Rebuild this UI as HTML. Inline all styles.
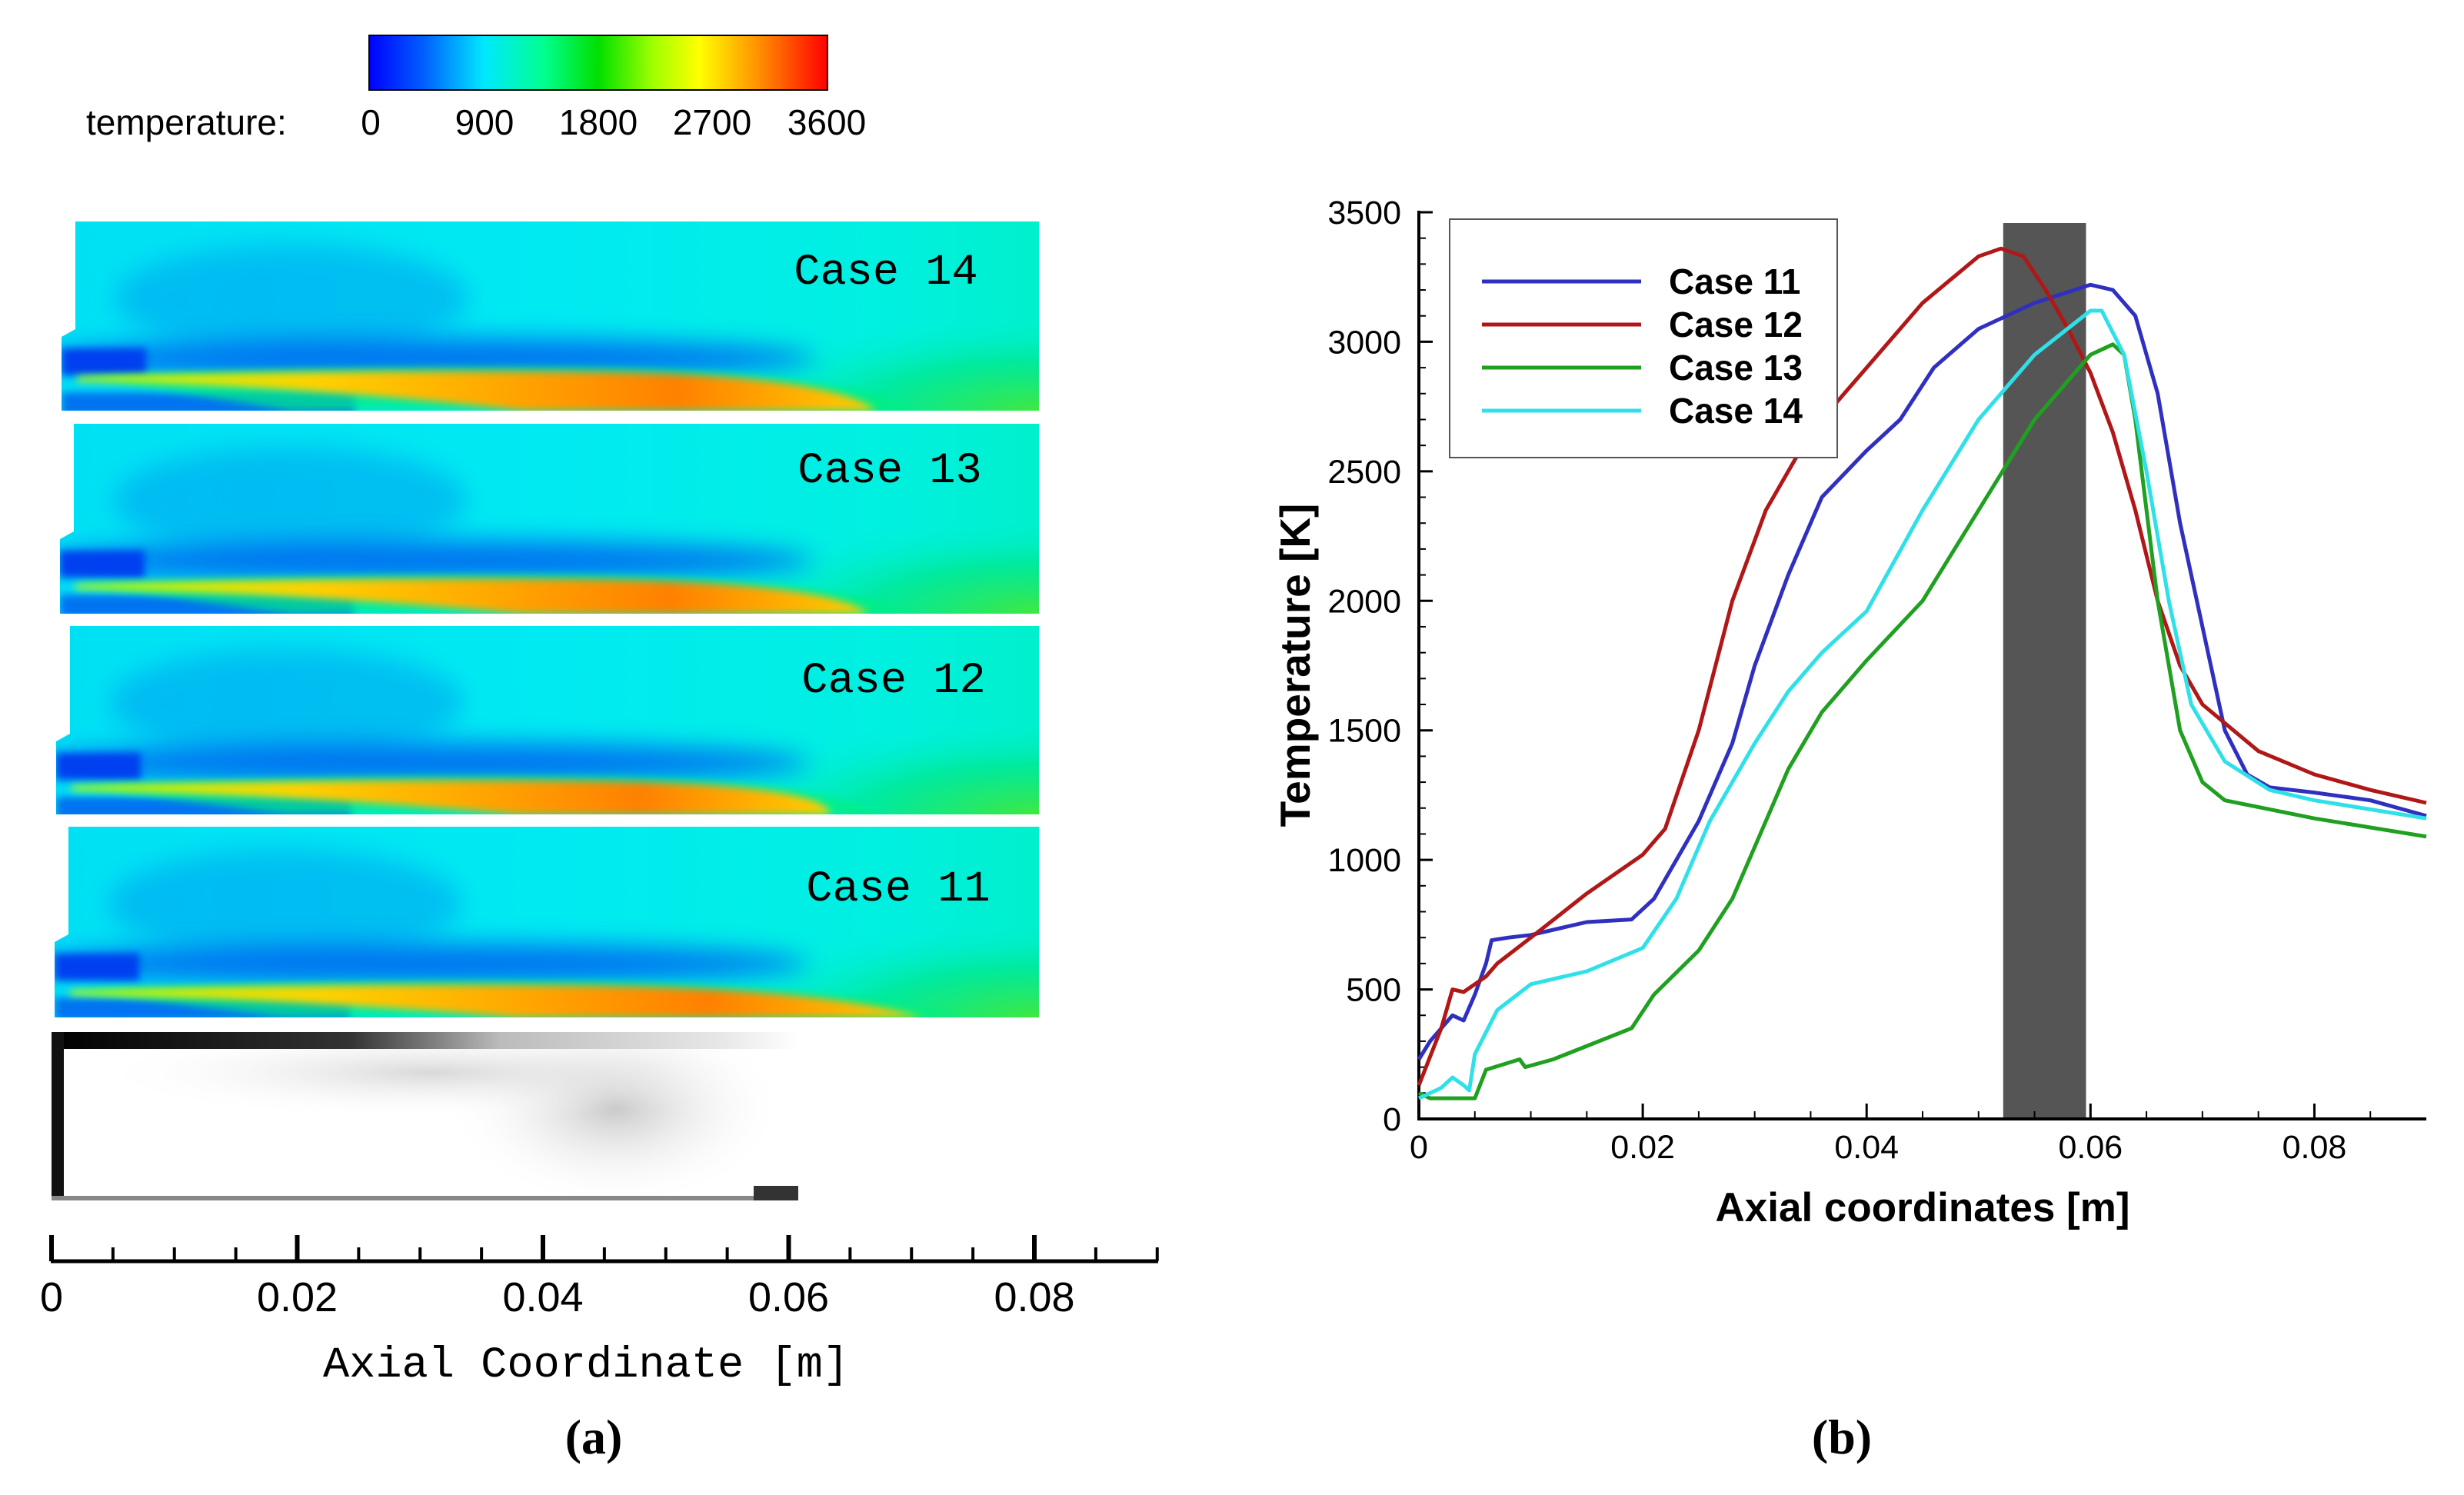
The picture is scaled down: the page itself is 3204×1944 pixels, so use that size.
<!DOCTYPE html>
<html><head><meta charset="utf-8">
<style>
body{margin:0;background:#fff;}
svg{display:block;}
</style></head>
<body>
<svg width="3204" height="1944" viewBox="0 0 3204 1944" xmlns="http://www.w3.org/2000/svg">
<defs>
  <linearGradient id="cbar" x1="0" x2="1" y1="0" y2="0">
    <stop offset="0" stop-color="#0000ff"/>
    <stop offset="0.12" stop-color="#0060ff"/>
    <stop offset="0.25" stop-color="#00e8ff"/>
    <stop offset="0.38" stop-color="#00ff90"/>
    <stop offset="0.5" stop-color="#00e000"/>
    <stop offset="0.62" stop-color="#a0ff00"/>
    <stop offset="0.72" stop-color="#ffff00"/>
    <stop offset="0.85" stop-color="#ff9000"/>
    <stop offset="1" stop-color="#ff0000"/>
  </linearGradient>
  <linearGradient id="bgH" x1="0" x2="1" y1="0" y2="0">
    <stop offset="0" stop-color="#00e0f4"/>
    <stop offset="0.5" stop-color="#00eaf2"/>
    <stop offset="0.85" stop-color="#00f0e0"/>
    <stop offset="1" stop-color="#00f0cc"/>
  </linearGradient>
  <radialGradient id="greenR" cx="1" cy="1" r="0.7">
    <stop offset="0" stop-color="#40e840"/>
    <stop offset="0.5" stop-color="#00e890" stop-opacity="0.8"/>
    <stop offset="1" stop-color="#00f0e0" stop-opacity="0"/>
  </radialGradient>
  <linearGradient id="flame" x1="0" x2="1" y1="0" y2="0">
    <stop offset="0" stop-color="#c0ff00"/>
    <stop offset="0.3" stop-color="#ffd000"/>
    <stop offset="0.75" stop-color="#ff8000"/>
    <stop offset="1" stop-color="#ffd000"/>
  </linearGradient>
  <linearGradient id="topStrip" x1="0" x2="1" y1="0" y2="0">
    <stop offset="0" stop-color="#000"/>
    <stop offset="0.4" stop-color="#333"/>
    <stop offset="0.6" stop-color="#bbb"/>
    <stop offset="0.9" stop-color="#e8e8e8"/>
    <stop offset="1" stop-color="#fff"/>
  </linearGradient>
  <radialGradient id="grayCloud" cx="0.5" cy="0.5" r="0.5">
    <stop offset="0" stop-color="#c8c8c8"/>
    <stop offset="1" stop-color="#fff" stop-opacity="0"/>
  </radialGradient>
  <filter id="blur" x="-30%" y="-80%" width="160%" height="260%"><feGaussianBlur stdDeviation="16"/></filter>
  <filter id="blur2" x="-20%" y="-50%" width="140%" height="200%"><feGaussianBlur stdDeviation="5"/></filter>
  <clipPath id="c14"><rect x="80" y="288" width="1271" height="246"/></clipPath>
  <clipPath id="c13"><rect x="78" y="551" width="1273" height="247"/></clipPath>
  <clipPath id="c12"><rect x="73" y="814" width="1278" height="245"/></clipPath>
  <clipPath id="c11"><rect x="71" y="1075" width="1280" height="248"/></clipPath>
  <clipPath id="cphoto"><rect x="67" y="1342" width="971" height="219"/></clipPath>
</defs>

<g>
  <rect x="480" y="46" width="596" height="71" fill="url(#cbar)" stroke="#000" stroke-width="2"/>
  <g font-family="Liberation Sans, sans-serif" font-size="46" fill="#000">
    <text x="112" y="175">temperature:</text>
    <text x="482" y="175" text-anchor="middle">0</text>
    <text x="630" y="175" text-anchor="middle">900</text>
    <text x="778" y="175" text-anchor="middle">1800</text>
    <text x="926" y="175" text-anchor="middle">2700</text>
    <text x="1075" y="175" text-anchor="middle">3600</text>
  </g>
</g>

<g id="panels"></g>

<g clip-path="url(#cphoto)">
  <rect x="67" y="1342" width="971" height="219" fill="#fff"/>
  <ellipse cx="800" cy="1440" rx="220" ry="130" fill="url(#grayCloud)"/>
  <ellipse cx="560" cy="1395" rx="440" ry="60" fill="url(#grayCloud)" opacity="0.7"/>
  <rect x="67" y="1342" width="971" height="22" fill="url(#topStrip)"/>
  <rect x="67" y="1342" width="16" height="219" fill="#111"/>
  <rect x="67" y="1555" width="971" height="6" fill="#888"/>
  <rect x="980" y="1542" width="58" height="19" fill="#333"/>
</g>

<g id="axisA"></g>
<text x="762" y="1790" text-anchor="middle" font-family="Liberation Mono, monospace" font-size="57" fill="#000">Axial Coordinate [m]</text>
<text x="772" y="1890" text-anchor="middle" font-family="Liberation Serif, serif" font-weight="bold" font-size="64" fill="#000">(a)</text>

<g id="chartB"></g>
<text x="2395" y="1890" text-anchor="middle" font-family="Liberation Serif, serif" font-weight="bold" font-size="64" fill="#000">(b)</text>
</svg>

<script>
// ----- Panel B data -----
const xTicks = [0, 0.02, 0.04, 0.06, 0.08];
const xTickLabels = ["0", "0.02", "0.04", "0.06", "0.08"];
const yTicks = [0, 500, 1000, 1500, 2000, 2500, 3000, 3500];
const yTickLabels = ["0", "500", "1000", "1500", "2000", "2500", "3000", "3500"];
const seriesNames = ["Case 11", "Case 12", "Case 13", "Case 14"];
const seriesColors = ["#3030c0", "#b01818", "#20a020", "#30e0e8"];
const bandRange = [0.0522, 0.0596];

const case11X = [0,0.001,0.002,0.003,0.004,0.005,0.006,0.0065,0.008,0.01,0.015,0.019,0.021,0.025,0.028,0.03,0.033,0.036,0.04,0.043,0.046,0.05,0.055,0.06,0.062,0.064,0.066,0.068,0.07,0.072,0.074,0.076,0.08,0.085,0.09];
const case11Y = [230,300,350,400,380,480,600,690,700,710,760,770,850,1150,1450,1750,2100,2400,2580,2700,2900,3050,3150,3220,3200,3100,2800,2300,1900,1500,1330,1280,1260,1230,1170];
const case12X = [0,0.002,0.003,0.004,0.005,0.006,0.007,0.01,0.015,0.02,0.022,0.025,0.028,0.031,0.035,0.04,0.045,0.05,0.052,0.054,0.056,0.058,0.06,0.062,0.064,0.066,0.068,0.07,0.075,0.08,0.085,0.09];
const case12Y = [130,350,500,490,520,550,600,700,870,1020,1120,1500,2000,2350,2650,2900,3150,3330,3360,3330,3200,3050,2880,2650,2350,2000,1750,1600,1420,1330,1270,1220];
const case13X = [0,0.001,0.005,0.006,0.009,0.0095,0.012,0.019,0.021,0.025,0.028,0.03,0.033,0.036,0.04,0.045,0.05,0.055,0.06,0.062,0.063,0.064,0.066,0.068,0.07,0.072,0.08,0.09];
const case13Y = [100,80,80,190,230,200,230,350,480,650,850,1050,1350,1570,1770,2000,2350,2700,2950,2990,2950,2700,2000,1500,1300,1230,1160,1090];
const case14X = [0,0.002,0.003,0.004,0.0045,0.005,0.007,0.01,0.015,0.02,0.023,0.026,0.03,0.033,0.036,0.04,0.045,0.05,0.055,0.06,0.061,0.063,0.065,0.067,0.069,0.072,0.076,0.08,0.09];
const case14Y = [80,120,160,130,110,250,420,520,570,660,850,1150,1450,1650,1800,1960,2350,2700,2950,3120,3120,2950,2500,2000,1600,1380,1270,1230,1160];

// ----- Panel A data -----
const axisATicks = [0, 0.02, 0.04, 0.06, 0.08];
const axisALabels = ["0", "0.02", "0.04", "0.06", "0.08"];
const caseLabels = ["Case 14", "Case 13", "Case 12", "Case 11"];

const NS = "http://www.w3.org/2000/svg";
function mk(tag, attrs, parent){
  const e = document.createElementNS(NS, tag);
  for (const k in attrs) e.setAttribute(k, attrs[k]);
  parent.appendChild(e);
  return e;
}

const X0 = 1845, X1 = 3155, Y0 = 1455, Y1 = 276;
const xs = v => X0 + v / 0.09 * (X1 - X0);
const ys = v => Y0 - v / 3500 * (Y0 - Y1);
const gB = document.getElementById('chartB');

const band = mk('rect', {x: xs(bandRange[0]), y: 290, width: xs(bandRange[1]) - xs(bandRange[0]), height: Y0 - 290, fill: '#555'}, gB);



const axL = mk('path', {d: `M${X0},${Y1-2} V${Y0} H${X1}`, stroke: '#000', 'stroke-width': 4, fill: 'none'}, gB);



yTicks.forEach((v, i) => {
  const y = ys(v);
  mk('line', {x1: X0, x2: X0 + 18, y1: y, y2: y, stroke: '#000', 'stroke-width': 3}, gB);
  if (i < yTicks.length - 1) {
    for (let m = 1; m < 5; m++) {
      const ym = ys(v + m * 100);
      mk('line', {x1: X0, x2: X0 + 9, y1: ym, y2: ym, stroke: '#000', 'stroke-width': 2}, gB);
    }
  }
  const t = mk('text', {x: 1822, y: y + 15, 'text-anchor': 'end', 'font-family': 'Liberation Sans, sans-serif', 'font-size': 43, fill: '#000'}, gB);
  t.textContent = yTickLabels[i];
  
  
});
xTicks.forEach((v, i) => {
  const x = xs(v);
  mk('line', {x1: x, x2: x, y1: Y0, y2: Y0 - 20, stroke: '#000', 'stroke-width': 3}, gB);
  const t = mk('text', {x: x, y: 1506, 'text-anchor': 'middle', 'font-family': 'Liberation Sans, sans-serif', 'font-size': 43, fill: '#000'}, gB);
  t.textContent = xTickLabels[i];
  
  
});
for (let m = 0.005; m < 0.09; m += 0.005) {
  const x = xs(m);
  mk('line', {x1: x, x2: x, y1: Y0, y2: Y0 - 10, stroke: '#000', 'stroke-width': 2}, gB);
}
const ytitle = mk('text', {x: 0, y: 0, transform: 'translate(1703,865) rotate(-90)', 'text-anchor': 'middle', 'font-family': 'Liberation Sans, sans-serif', 'font-weight': 'bold', 'font-size': 55, fill: '#000'}, gB);
ytitle.textContent = 'Temperature [K]';


const xtitle = mk('text', {x: 2500, y: 1588, 'text-anchor': 'middle', 'font-family': 'Liberation Sans, sans-serif', 'font-weight': 'bold', 'font-size': 53, fill: '#000'}, gB);
xtitle.textContent = 'Axial coordinates [m]';



const allX = [case11X, case12X, case13X, case14X];
const allY = [case11Y, case12Y, case13Y, case14Y];
const seriesKeys = ['case-11', 'case-12', 'case-13', 'case-14'];
allX.forEach((xa, s) => {
  const d = xa.map((x, i) => (i ? 'L' : 'M') + xs(x).toFixed(1) + ',' + ys(allY[s][i]).toFixed(1)).join(' ');
  const p = mk('path', {d: d, stroke: seriesColors[s], 'stroke-width': 5, fill: 'none', 'stroke-linejoin': 'round'}, gB);
  
  
});

const lg = mk('g', {}, gB);


mk('rect', {x: 1885, y: 285, width: 504, height: 310, fill: '#fff', stroke: '#555', 'stroke-width': 2}, lg);
seriesNames.forEach((n, i) => {
  const y = 366 + i * 56;
  const e = mk('g', {}, lg);
  
  
  mk('line', {x1: 1927, x2: 2134, y1: y, y2: y, stroke: seriesColors[i], 'stroke-width': 5}, e);
  const t = mk('text', {x: 2170, y: y + 16, 'font-family': 'Liberation Sans, sans-serif', 'font-weight': 'bold', 'font-size': 46, fill: '#000'}, e);
  t.textContent = n;
});

// ----- Panel A contour panels -----
const panelsG = document.getElementById('panels');
const panelBoxes = [[80,288,1271,246,'c14'],[78,551,1273,247,'c13'],[73,814,1278,245,'c12'],[71,1075,1280,248,'c11']];
const flameEnd = [1140, 1130, 1080, 1200];
const flameY = [490, 760, 1022, 1288];
const labelX = [1152, 1157, 1162, 1168];
const labelY = [369, 627, 900, 1171];
panelBoxes.forEach((b, i) => {
  const [x, y, w, h, cid] = b;
  const g = mk('g', {'clip-path': `url(#${cid})`}, panelsG);
  
  
  mk('rect', {x, y, width: w, height: h, fill: 'url(#bgH)'}, g);
  mk('rect', {x: x + w * 0.5, y: y + h * 0.25, width: w * 0.5, height: h * 0.75, fill: 'url(#greenR)'}, g);
  mk('ellipse', {cx: x + 300, cy: y + 100, rx: 230, ry: 70, fill: '#0090f0', opacity: 0.45, filter: 'url(#blur)'}, g);
  mk('ellipse', {cx: x + 480, cy: y + 178, rx: 500, ry: 26, fill: '#0060f0', opacity: 0.85, filter: 'url(#blur)'}, g);
  mk('rect', {x: x, y: y + 165, width: 110, height: 35, fill: '#0040f0', filter: 'url(#blur2)'}, g);
  mk('rect', {x: x, y: y + 222, width: w * 0.3, height: 30, fill: '#0050f0', opacity: 0.75, filter: 'url(#blur2)'}, g);
  const fy = flameY[i];
  mk('path', {d: `M${x+20},${fy} Q${x+400},${fy-16} ${x+700},${fy-12} T${flameEnd[i]+60},${y+h} L${x+300},${y+h} Z`, fill: '#00f080', opacity: 0.7, filter: 'url(#blur2)'}, g);
  mk('path', {d: `M${x+20},${fy} Q${x+400},${fy-10} ${x+700},${fy-6} T${flameEnd[i]},${y+h} L${x+600},${y+h} Q${x+300},${fy+10} ${x+20},${fy+6} Z`, fill: 'url(#flame)', filter: 'url(#blur2)'}, g);
  mk('path', {d: `M${x},${y} h18 v140 l-18,10 Z`, fill: '#fff'}, g);
  const t = mk('text', {x: labelX[i], y: labelY[i], 'text-anchor': 'middle', 'font-family': 'Liberation Mono, monospace', 'font-size': 57, fill: '#000'}, panelsG);
  t.textContent = caseLabels[i];
  
  
});

// Panel A axis
const gA = document.getElementById('axisA');
const ax0 = 67, ax8 = 1345, axY = 1640;
const axs = v => ax0 + v / 0.08 * (ax8 - ax0);
mk('line', {x1: 66, x2: 1506, y1: axY, y2: axY, stroke: '#000', 'stroke-width': 5}, gA);
for (let m = 0; m <= 0.0905; m += 0.005) {
  const xx = axs(m);
  mk('line', {x1: xx, x2: xx, y1: axY, y2: axY - 18, stroke: '#000', 'stroke-width': 4}, gA);
}
axisATicks.forEach((v, i) => {
  const xx = axs(v);
  mk('line', {x1: xx, x2: xx, y1: axY, y2: axY - 34, stroke: '#000', 'stroke-width': 6}, gA);
  const t = mk('text', {x: xx, y: 1705, 'text-anchor': 'middle', 'font-family': 'Liberation Sans, sans-serif', 'font-size': 54, fill: '#000'}, gA);
  t.textContent = axisALabels[i];
  
  
});
</script>
</body></html>
